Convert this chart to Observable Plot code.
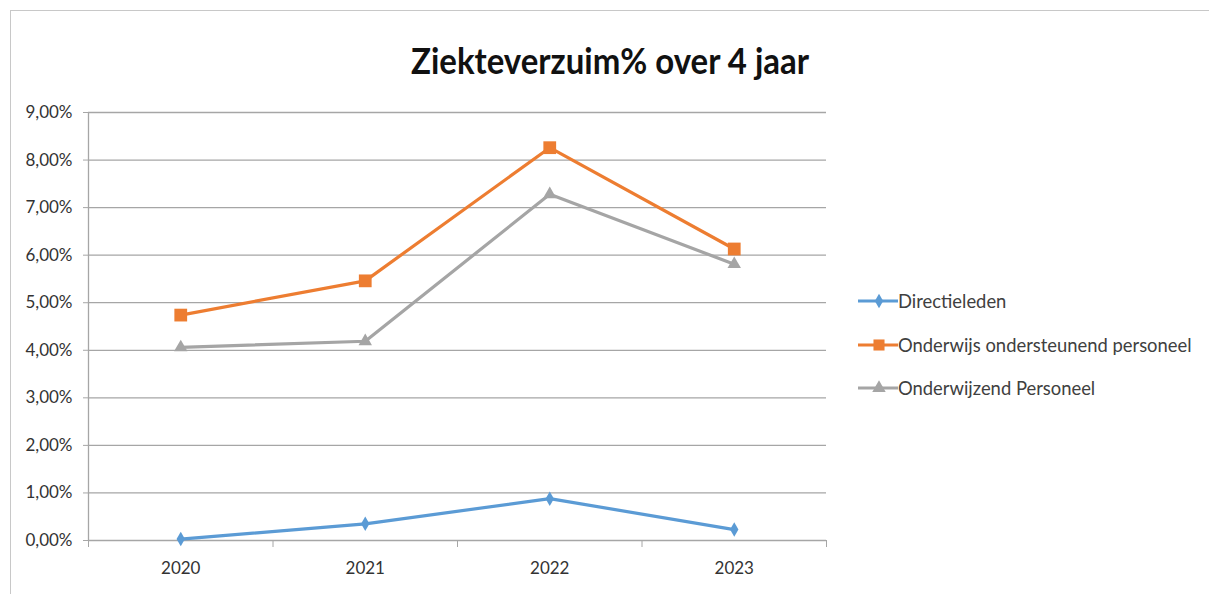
<!DOCTYPE html>
<html>
<head>
<meta charset="utf-8">
<script src="https://cdn.jsdelivr.net/npm/d3@7"></script>
<script src="https://cdn.jsdelivr.net/npm/@observablehq/plot@0.6"></script>
<style>
  body { margin: 0; background: #fff; }
  #wrap { position: relative; width: 1209px; height: 594px; overflow: hidden; font-family: Lato, "Open Sans", sans-serif; }
  #frame { position: absolute; left: 10px; top: 10px; width: 1250px; height: 650px; border: 1px solid #c8c8c8; box-sizing: border-box; }
  #chart { position: absolute; left: 0; top: 0; }
  #title { position: absolute; left: 0; top: 0; }
  .leg { position: absolute; left: 856px; height: 24px; display: flex; align-items: center; font-size: 18.4px; color: #404040; white-space: nowrap; }
</style>
</head>
<body>
<div id="wrap">
  <div id="frame"></div>
  <div id="chart"></div>
  <svg id="title" width="1209" height="100">
    <text x="610" y="74" text-anchor="middle" font-family="Lato, sans-serif" font-weight="bold" font-size="37" fill="#111" textLength="398" lengthAdjust="spacingAndGlyphs">Ziekteverzuim% over 4 jaar</text>
  </svg>
  <div id="legend"></div>
</div>
<script>
const years = ["2020", "2021", "2022", "2023"];
const seriesNames = ["Directieleden", "Onderwijs ondersteunend personeel", "Onderwijzend Personeel"];
const directieleden = [0.0003, 0.0035, 0.0088, 0.0023];
const ondersteunend = [0.0474, 0.0546, 0.0826, 0.0613];
const onderwijzend = [0.0406, 0.0419, 0.0728, 0.0581];
const yTicks = [0, 0.01, 0.02, 0.03, 0.04, 0.05, 0.06, 0.07, 0.08, 0.09];
const colors = ["#5b9bd5", "#ed7d31", "#a5a5a5"];
const symbols = ["diamond", "square", "triangle"];
const radii = [4.4, 7.2, 5];

const seriesValues = [directieleden, ondersteunend, onderwijzend];
const data = [];
seriesValues.forEach((vals, s) => vals.forEach((v, i) => data.push({series: seriesNames[s], idx: i + 1, year: years[i], value: v})));

const xPos = years.map((d, i) => i + 1);
const xBounds = d3.range(years.length + 1).map(i => i + 0.5);
const fmt = d => (d * 100).toFixed(2).replace(".", ",") + "%";
const grid = "#a6a6a6";

const marks = [
  Plot.gridY(yTicks, {stroke: grid, strokeOpacity: 1, strokeWidth: 1.3}),
  Plot.ruleX([0.5], {y1: 0, y2: 0.09, stroke: grid, strokeWidth: 1.3}),
  Plot.axisY({ticks: yTicks, tickFormat: fmt, tickSize: 5, tickPadding: 11, stroke: grid, fill: "#333", fontSize: 17, label: null}),
  Plot.axisX({ticks: xBounds, tickFormat: () => "", tickSize: 7, stroke: grid, label: null}),
  Plot.axisX({ticks: xPos, tickFormat: i => years[i - 1], tickSize: 0, tickPadding: 21, fill: "#333", fontSize: 17, label: null})
];
seriesNames.forEach((name, s) => {
  const d = data.filter(r => r.series === name);
  marks.push(Plot.line(d, {x: "idx", y: "value", stroke: colors[s], strokeWidth: 3.2}));
  marks.push(Plot.dot(d, {x: "idx", y: "value", fill: colors[s], symbol: () => symbols[s], r: radii[s]}));
});

const chart = Plot.plot({
  width: 1209,
  height: 594,
  marginLeft: 88,
  marginRight: 383,
  marginTop: 112,
  marginBottom: 54,
  style: {fontFamily: "Lato, 'Open Sans', sans-serif", fontSize: "17px", color: "#333", background: "transparent"},
  x: {type: "linear", domain: [0.5, years.length + 0.5], axis: null},
  y: {domain: [0, 0.09], axis: null},
  symbol: {type: "identity"},
  marks
});
document.getElementById("chart").appendChild(chart);

// legend
const legendTops = [289, 333, 376];
const legend = document.getElementById("legend");
seriesNames.forEach((name, s) => {
  const row = document.createElement("div");
  row.className = "leg";
  row.style.top = legendTops[s] + "px";
  const sym = d3.symbol(s === 0 ? d3.symbolDiamond : s === 1 ? d3.symbolSquare : d3.symbolTriangle, Math.PI * radii[s] * radii[s] * (s === 1 ? 0.75 : 1))();
  row.innerHTML = `<svg width="42" height="24"><line x1="2" x2="42" y1="12" y2="12" stroke="${colors[s]}" stroke-width="3"/><path d="${sym}" transform="translate(23,12)" fill="${colors[s]}"/></svg><span>${name}</span>`;
  legend.appendChild(row);
});
</script>
</body>
</html>
